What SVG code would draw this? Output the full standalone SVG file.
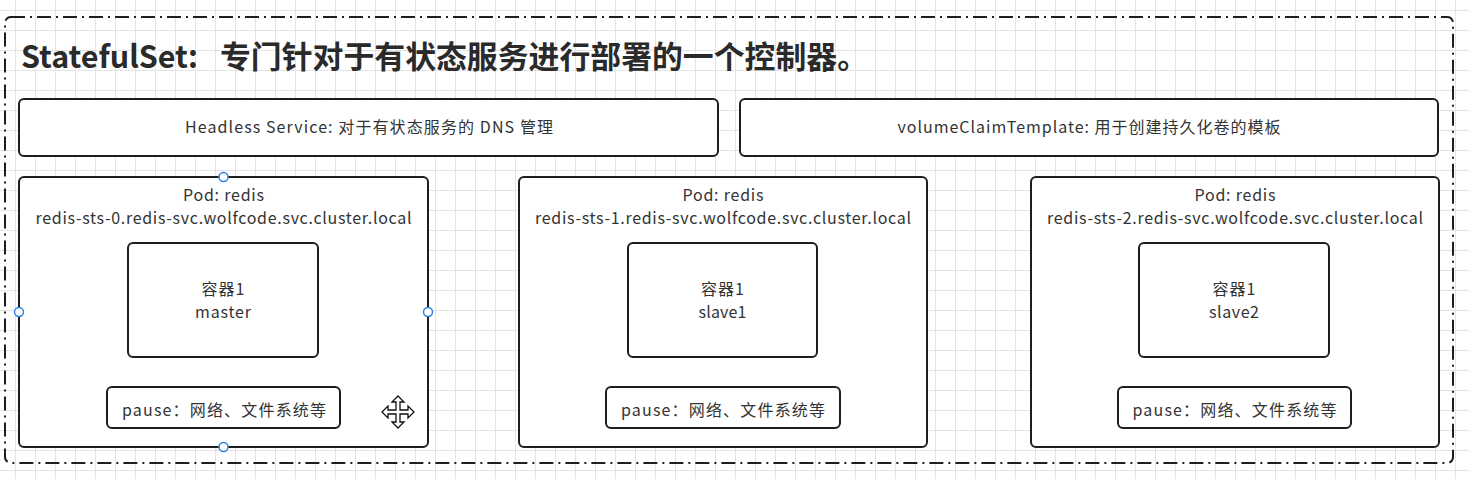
<svg xmlns="http://www.w3.org/2000/svg" width="1469" height="479" viewBox="0 0 1469 479">
<style>
.box{fill:#fff;stroke:#1e1e1e;stroke-width:2}
.t{font-family:"Noto Sans CJK SC","Microsoft YaHei",sans-serif;font-size:16px;fill:#333;text-anchor:middle}
.title{font-family:"Noto Sans CJK SC",sans-serif;font-size:31px;font-weight:bold;fill:#2a2a2a}
.h{fill:#fff;stroke:#2f7fe6;stroke-width:1.5}
</style>
<defs>
<pattern id="grid" width="20" height="20" x="15" y="10" patternUnits="userSpaceOnUse">
<path d="M0 0.5H20M0.5 0V20" fill="none" stroke="#e4e4e4" stroke-width="1"/>
</pattern>
</defs>
<rect width="1469" height="479" fill="#fff"/>
<rect width="1469" height="479" fill="url(#grid)"/>
<g id="statefulset">
<rect x="5" y="17" width="1448" height="446" rx="6" fill="none" stroke="#1e1e1e" stroke-width="2" stroke-dasharray="14 5 2 5"/>
<text class="title" y="68"><tspan x="21" textLength="177" lengthAdjust="spacingAndGlyphs">StatefulSet:</tspan><tspan x="220" textLength="648" lengthAdjust="spacingAndGlyphs">专门针对于有状态服务进行部署的一个控制器。</tspan></text>
</g>
<g id="headless-service">
<rect class="box" x="19" y="99" width="699" height="57" rx="5"/>
<text class="t" x="369" y="133" textLength="368">Headless Service: 对于有状态服务的 DNS 管理</text>
</g>
<g id="volume-claim-template">
<rect class="box" x="740" y="99" width="698" height="57" rx="5"/>
<text class="t" x="1089" y="133" textLength="383">volumeClaimTemplate: 用于创建持久化卷的模板</text>
</g>
<g id="pod-0">
<rect class="box" x="19" y="177" width="409" height="270" rx="5"/>
<text class="t" x="223.5" y="201" textLength="81">Pod: redis</text>
<text class="t" x="223.5" y="224" textLength="376">redis-sts-0.redis-svc.wolfcode.svc.cluster.local</text>
<g id="pod-0-container">
<rect class="box" x="128" y="243" width="190" height="114" rx="5"/>
<text class="t" x="223" y="295" textLength="43">容器1</text>
<text class="t" x="223" y="318" textLength="56">master</text>
</g>
<g id="pod-0-pause">
<rect class="box" x="107" y="387" width="233" height="41" rx="5"/>
<text class="t" x="224" y="416" textLength="204">pause：网络、文件系统等</text>
</g>
</g>
<g id="pod-1">
<rect class="box" x="519" y="177" width="408" height="270" rx="5"/>
<text class="t" x="723" y="201" textLength="81">Pod: redis</text>
<text class="t" x="723" y="224" textLength="376">redis-sts-1.redis-svc.wolfcode.svc.cluster.local</text>
<g id="pod-1-container">
<rect class="box" x="628" y="243" width="189" height="114" rx="5"/>
<text class="t" x="722.5" y="295" textLength="43">容器1</text>
<text class="t" x="722.5" y="318" textLength="48">slave1</text>
</g>
<g id="pod-1-pause">
<rect class="box" x="606" y="387" width="234" height="41" rx="5"/>
<text class="t" x="723" y="416" textLength="204">pause：网络、文件系统等</text>
</g>
</g>
<g id="pod-2">
<rect class="box" x="1031" y="177" width="408" height="270" rx="5"/>
<text class="t" x="1235" y="201" textLength="81">Pod: redis</text>
<text class="t" x="1235" y="224" textLength="376">redis-sts-2.redis-svc.wolfcode.svc.cluster.local</text>
<g id="pod-2-container">
<rect class="box" x="1139" y="243" width="190" height="114" rx="5"/>
<text class="t" x="1234" y="295" textLength="43">容器1</text>
<text class="t" x="1234" y="318" textLength="50">slave2</text>
</g>
<g id="pod-2-pause">
<rect class="box" x="1118" y="387" width="233" height="41" rx="5"/>
<text class="t" x="1234.5" y="416" textLength="204">pause：网络、文件系统等</text>
</g>
</g>
<g id="connectors"></g>
<g id="selection-handles">
<circle class="h" cx="223.5" cy="177" r="4.5"/>
<circle class="h" cx="19" cy="312" r="4.5"/>
<circle class="h" cx="428" cy="312" r="4.5"/>
<circle class="h" cx="223.5" cy="447" r="4.5"/>
</g>
<g id="move-cursor" transform="translate(398,412)">
<path d="M0 -16 L6 -10 L2 -10 L2 -2 L10 -2 L10 -6 L16 0 L10 6 L10 2 L2 2 L2 10 L6 10 L0 16 L-6 10 L-2 10 L-2 2 L-10 2 L-10 6 L-16 0 L-10 -6 L-10 -2 L-2 -2 L-2 -10 L-6 -10 Z" fill="#fff" stroke="#111" stroke-width="1.3" stroke-linejoin="miter"/>
</g>
</svg>
